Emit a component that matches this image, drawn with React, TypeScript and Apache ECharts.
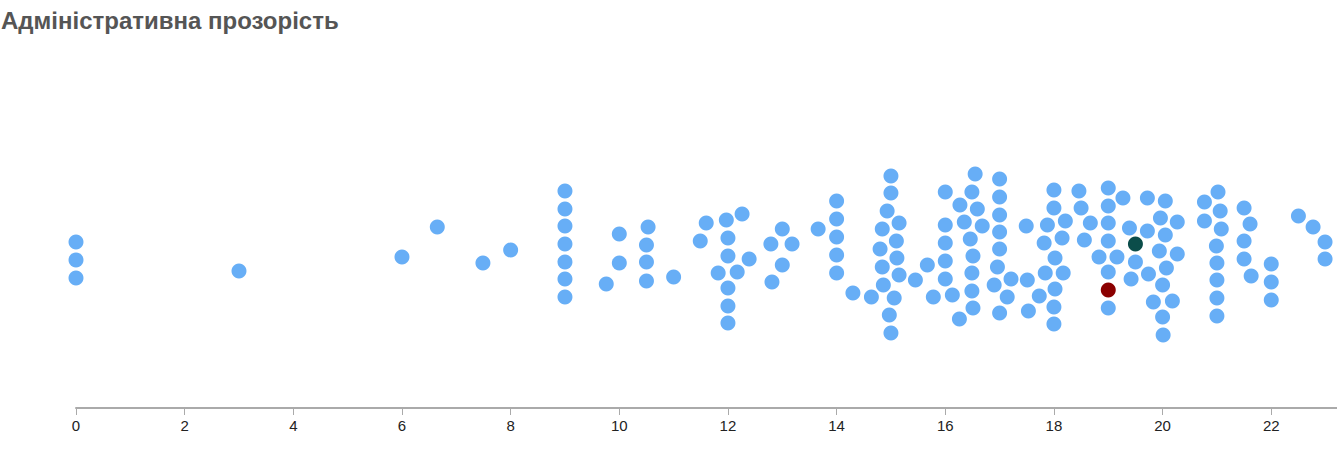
import React, { useEffect, useRef } from "react";
import * as echarts from "echarts";

const titleText = "Адміністративна прозорість";
const xTicks = [0, 2, 4, 6, 8, 10, 12, 14, 16, 18, 20, 22];

// score (x) and swarm offset (y) for each regular point
const scores = [
  0, 0, 0, 3, 6, 6.65, 7.49, 8,
  9, 9, 9, 9, 9, 9, 9,
  9.76, 10, 10, 10.53, 10.5, 10.5, 10.5, 11,
  11.49, 11.6, 11.97, 12.26, 12, 12, 12.39, 11.82, 12.17, 12, 12, 12,
  13, 12.79, 13.18, 13, 12.81, 13.66,
  14, 14, 14, 14, 14, 14.3, 14.64,
  15, 15, 14.93, 15.15, 14.84, 15.1, 14.8, 15.11, 14.84, 15.15, 14.86, 15.06, 14.97, 15,
  15.45, 15.67, 15.78,
  16, 16, 16, 16, 16,
  16.55, 16.49, 17, 16.27, 16.59, 17, 16.35, 16.68, 17, 17.49, 16.46, 17, 16.51, 17,
  16.49, 16.96, 17.21, 17.51, 16.9, 16.13, 16.49, 17.14, 16.51, 16.26, 17, 17.53, 17.73,
  17.84, 18.02, 18, 18, 18.17, 18.02, 17.82, 18.15, 17.88, 18.21, 18, 18,
  18.46, 18.5, 18.56, 18.67,
  19, 19, 19, 19, 19, 19,
  19.27, 19.72, 20.05, 19.96, 20.27, 19.39, 19.72, 20.05, 19.94, 20.27, 18.83, 19.16, 19.5,
  20.07, 19.74, 19.42, 20, 19.83, 20.18, 20, 20.01,
  21.02, 20.77, 21.06, 20.77, 21.08, 20.99, 21, 21, 21, 21,
  21.5, 21.61, 21.5, 21.5, 21.63, 22, 22, 22,
  22.5, 22.77, 22.99, 22.99,
];
const offsets = [
  12, -6, -24, -17, -3, 27, -9, 4,
  63, 45, 28, 10, -8, -25, -43,
  -30, 20, -9, 27, 9, -8, -27, -23,
  13, 31, 34, 40, 16, -2, -5, -19, -18, -34, -52, -69,
  25, 10, 10, -11, -28, 25,
  53, 35, 17, -1, -19, -39, -43,
  78, 61, 43, 31, 25, 13, 5, -4, -13, -21, -31, -44, -61, -79,
  -26, -11, -43,
  62, 29, 11, -7, -25,
  80, 62, 75, 49, 45, 57, 32, 28, 39, 28, 15, 22, -2, 5,
  -19, -13, -25, -26, -31, -41, -37, -43, -54, -65, -59, -57, -42,
  -19, -35, -53, -70, -19, -4, 11, 16, 29, 33, 46, 64,
  63, 46, 14, 31,
  66, 48, 31, 13, -18, -54,
  56, 56, 53, 36, 32, 26, 23, 19, 3, 0, -3, -3, -8,
  -14, -20, -25, -31, -48, -47, -63, -81,
  62, 52, 43, 33, 25, 8, -9, -26, -44, -62,
  46, 30, 13, -5, -22, -10, -28, -46,
  38, 27, 12, -5,
];

const redPoint = [19, -36];
const greenPoint = [19.5, 10];

const blue = "#67aef6";

export default function App() {
  const ref = useRef<HTMLDivElement>(null);
  useEffect(() => {
    if (!ref.current) return;
    const chart = echarts.init(ref.current, undefined, { renderer: "svg" });
    const pts = scores.map((s, i) => [s, offsets[i]]);
    chart.setOption({
      animation: false,
      title: {
        text: titleText,
        left: 1,
        top: 8,
        padding: 0,
        textStyle: {
          fontFamily: "Liberation Sans, Arial, sans-serif",
          fontSize: 24,
          fontWeight: "bold",
          color: "#555",
        },
      },
      grid: { left: 76, right: 0, top: 40, bottom: 51 },
      xAxis: {
        type: "value",
        min: 0,
        max: 23.21,
        interval: 2,
        splitLine: { show: false },
        axisLine: { show: true, onZero: false, lineStyle: { color: "#aaa", width: 2 } },
        axisTick: { show: true, length: 7, lineStyle: { color: "#aaa", width: 1 } },
        axisLabel: {
          margin: 10,
          fontSize: 15,
          color: "#222",
          fontFamily: "Liberation Sans Narrow, Liberation Sans, Arial, sans-serif",
          showMaxLabel: false,
          formatter: (v: number) => (xTicks.includes(v) ? String(v) : ""),
        },
      },
      yAxis: {
        type: "value",
        min: -154,
        max: 214,
        show: false,
        splitLine: { show: false },
      },
      series: [
        {
          type: "scatter",
          data: pts,
          symbolSize: 15,
          itemStyle: { color: blue, opacity: 1 },
          silent: true,
        },
        {
          type: "scatter",
          data: [redPoint],
          symbolSize: 15,
          itemStyle: { color: "#8b0000", opacity: 1 },
          silent: true,
        },
        {
          type: "scatter",
          data: [greenPoint],
          symbolSize: 15,
          itemStyle: { color: "#0b4d4a", opacity: 1 },
          silent: true,
        },
      ],
    });
    return () => chart.dispose();
  }, []);
  return (
    <div
      ref={ref}
      style={{ position: "fixed", left: 0, top: 0, width: 1337, height: 459, background: "#fff" }}
    />
  );
}
